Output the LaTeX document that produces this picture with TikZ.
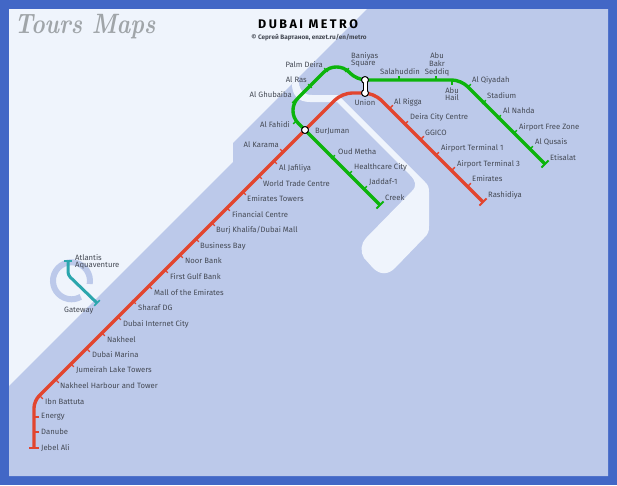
\documentclass[tikz,border=0pt]{standalone}
\usepackage{fontspec}
\setmainfont{Fira Sans}
\newfontfamily\titlefont[LetterSpace=20]{Fira Sans}
\definecolor{framecol}{HTML}{4267C6}
\definecolor{seacol}{HTML}{EFF4FC}
\definecolor{landcol}{HTML}{BCC9EA}
\definecolor{redcol}{HTML}{E2452F}
\definecolor{greencol}{HTML}{0CB40C}
\definecolor{tealcol}{HTML}{2BA6AD}
\definecolor{textcol}{HTML}{454A55}
\definecolor{logocol}{HTML}{A0A5A9}
\tikzset{
  stn/.style={font=\fontsize{7.7}{7.6}\selectfont,text=textcol,inner sep=0pt,anchor=west},
  stnr/.style={stn,anchor=east},
  stnc/.style={stn,anchor=center,align=center},
  stnl/.style={stn,align=left},
  tick/.style={rectangle,minimum width=5pt,minimum height=1.4pt,inner sep=0pt},
  endbar/.style={rectangle,minimum width=10pt,minimum height=2pt,inner sep=0pt},
  xchg/.style={circle,draw=black,fill=white,line width=1pt,minimum size=7pt,inner sep=0pt},
  metro/.style={line width=3.4pt,line cap=butt}
}
\begin{document}
\begin{tikzpicture}[line cap=round,line join=round,x=1pt,y=-1pt]
    \useasboundingbox (0,0) rectangle (617,485);
    \fill [framecol] (0,0) rectangle (617,485);
    \fill [seacol] (9,9) rectangle (608,476);
    \fill [landcol] (367,9) -- (608,9) -- (608,476) -- (9,476) -- (9,386) -- (233,162) -- (233,143) -- (300,76) -- cycle;
    \fill [seacol] (292,84) .. controls (292,95) and (298,102) .. (310,102) -- (337,102) -- (410,175) .. controls (416,181) and (417,186) .. (412,191) -- (366,238) .. controls (361,243) and (360,252) .. (364,258) -- (373,268) .. controls (380,275) and (388,275) .. (395,268) -- (424,238) .. controls (428,234) and (429,232) .. (429,226) -- (429,192) .. controls (429,187) and (428,185) .. (425,182) -- (338,95) -- (312,95) .. controls (303,95) and (299,90) .. (298,78) -- cycle;
    \draw [landcol,line width=6pt,line cap=butt] (89.7,284) arc [start angle=-10,end angle=300,radius=18.5pt];

    \node [font=\itshape\bfseries\fontsize{28}{28}\selectfont,text=logocol,inner sep=0pt,xscale=.83,transform shape] (logo) at (85,27) {\fontspec{Latin Modern Roman}Tours Maps};
    \node [font=\bfseries\fontsize{12.5}{12.5}\selectfont,text=black,inner sep=0pt] (title) at (308,24) {\titlefont DUBAI METRO};
    \node [font=\fontsize{6.4}{6.4}\selectfont\bfseries,text=textcol,inner sep=0pt] (credit) at (309,38) {© Сергей Вартанов, enzet.ru/en/metro};

    \coordinate (gateway) at (97,303);
    \coordinate (palmbend) at (68,275);
    \coordinate (atlantis) at (68,261);
    \draw [metro,tealcol,line width=3pt,rounded corners=3pt] (atlantis) -- (palmbend) -- (gateway);
    \node [endbar,fill=tealcol,minimum width=8pt,minimum height=1.6pt] (atlantisbar) at (atlantis) {};
    \node [endbar,fill=tealcol,minimum width=8pt,minimum height=1.6pt,rotate=45] (gatewaybar) at (gateway) {};

    \coordinate (jebelali) at (34,448);
    \coordinate (redbenda) at (34,401);
    \coordinate (redbendb) at (342,93);
    \coordinate (redbendc) at (374,93);
    \coordinate (rashidiya) at (483,202);
    \coordinate (creek) at (380,205);
    \coordinate (greenbenda) at (285.5,110.5);
    \coordinate (greenbendb) at (336.5,59.5);
    \coordinate (greenbendc) at (357,80);
    \coordinate (greenbendd) at (461,80);
    \coordinate (etisalat) at (545,164);
    \coordinate (burjuman) at (305,130);
    \coordinate (uniongreen) at (365,80);
    \coordinate (unionred) at (365,93);

    \draw [metro,greencol,rounded corners=18pt] (creek) -- (greenbenda) -- (greenbendb) [rounded corners=9pt] -- (greenbendc) -- (greenbendd) -- (etisalat);
    \draw [metro,redcol,rounded corners=7pt] (jebelali) -- (redbenda) [rounded corners=10pt] -- (redbendb) -- (redbendc) -- (rashidiya);

    \node [endbar,fill=redcol] (jebelbar) at (jebelali) {};
    \node [tick,fill=redcol] (tdanube) at (36,432) {};
    \node [tick,fill=redcol] (tenergy) at (36,417) {};
    \node [tick,fill=redcol,rotate=-45] (tibn) at (41,397) {};
    \node [tick,fill=redcol,rotate=-45] (tharbour) at (57,381) {};
    \node [tick,fill=redcol,rotate=-45] (tlake) at (72,365) {};
    \node [tick,fill=redcol,rotate=-45] (tmarina) at (88,350) {};
    \node [tick,fill=redcol,rotate=-45] (tnakheel) at (103,334) {};
    \node [tick,fill=redcol,rotate=-45] (tinternet) at (119,318) {};
    \node [tick,fill=redcol,rotate=-45] (tsharaf) at (134,302) {};
    \node [tick,fill=redcol,rotate=-45] (tmall) at (150,287) {};
    \node [tick,fill=redcol,rotate=-45] (tgulf) at (166,271) {};
    \node [tick,fill=redcol,rotate=-45] (tnoor) at (181,256) {};
    \node [tick,fill=redcol,rotate=-45] (tbusiness) at (197,240) {};
    \node [tick,fill=redcol,rotate=-45] (tkhalifa) at (213,224) {};
    \node [tick,fill=redcol,rotate=-45] (tfinancial) at (228,209) {};
    \node [tick,fill=redcol,rotate=-45] (ttowers) at (244,193) {};
    \node [tick,fill=redcol,rotate=-45] (twtc) at (260,177) {};
    \node [tick,fill=redcol,rotate=-45] (tjafiliya) at (275,162) {};
    \node [tick,fill=redcol,rotate=-45] (tkarama) at (282,151) {};
    \node [tick,fill=redcol,rotate=45] (trigga) at (391,107) {};
    \node [tick,fill=redcol,rotate=45] (tdeira) at (406,123) {};
    \node [tick,fill=redcol,rotate=45] (tggico) at (422,138) {};
    \node [tick,fill=redcol,rotate=45] (tterma) at (437,154) {};
    \node [tick,fill=redcol,rotate=45] (ttermb) at (453,169) {};
    \node [tick,fill=redcol,rotate=45] (temirates) at (469,185) {};
    \node [endbar,fill=redcol,rotate=45] (rashbar) at (rashidiya) {};

    \node [tick,fill=greencol,rotate=45] (toud) at (333,157) {};
    \node [tick,fill=greencol,rotate=45] (thealth) at (350,173) {};
    \node [tick,fill=greencol,rotate=45] (tjaddaf) at (365,188) {};
    \node [endbar,fill=greencol,rotate=45] (creekbar) at (creek) {};
    \node [tick,fill=greencol,rotate=45] (tfahidi) at (295,122) {};
    \node [tick,fill=greencol,rotate=45] (tghubaiba) at (294,101) {};
    \node [tick,fill=greencol,rotate=-45] (tras) at (310,86) {};
    \node [tick,fill=greencol,rotate=-45] (tpalm) at (326,70) {};
    \node [tick,fill=greencol,rotate=45] (tbaniyas) at (347,70) {};
    \node [tick,fill=greencol,rotate=90] (tsalah) at (399,78) {};
    \node [tick,fill=greencol,rotate=90] (tbakr) at (436,78) {};
    \node [tick,fill=greencol,rotate=90] (thail) at (452,82) {};
    \node [tick,fill=greencol,rotate=45] (tqiyadah) at (469,86) {};
    \node [tick,fill=greencol,rotate=45] (tstadium) at (484,102) {};
    \node [tick,fill=greencol,rotate=45] (tnahda) at (499,117) {};
    \node [tick,fill=greencol,rotate=45] (tfree) at (515,132) {};
    \node [tick,fill=greencol,rotate=45] (tqusais) at (531,148) {};
    \node [endbar,fill=greencol,rotate=45] (etisbar) at (etisalat) {};

    \draw [black,line width=5pt,line cap=butt] (uniongreen) -- (unionred);
    \node [xchg] (xunionn) at (uniongreen) {};
    \node [xchg] (xunions) at (unionred) {};
    \node [xchg] (xburjuman) at (burjuman) {};
    \draw [white,line width=3pt,line cap=butt] (uniongreen) -- (unionred);

    \node [stnl] (atlantislabel) at (75,262) {Atlantis\\Aquaventure};
    \node [stn] (gatewaylabel) at (64,311) {Gateway};

    \node [stn] (ljebel) at (41,448) {Jebel Ali};
    \node [stn] (ldanube) at (41,432) {Danube};
    \node [stn] (lenergy) at (41,417) {Energy};
    \node [stn] (libn) at (45,402) {Ibn Battuta};
    \node [stn] (lharbour) at (60,386) {Nakheel Harbour and Tower};
    \node [stn] (llake) at (76,370) {Jumeirah Lake Towers};
    \node [stn] (lmarina) at (92,355) {Dubai Marina};
    \node [stn] (lnakheel) at (107,340) {Nakheel};
    \node [stn] (linternet) at (123,324) {Dubai Internet City};
    \node [stn] (lsharaf) at (138,308) {Sharaf DG};
    \node [stn] (lmall) at (154,293) {Mall of the Emirates};
    \node [stn] (lgulf) at (170,277) {First Gulf Bank};
    \node [stn] (lnoor) at (185,261) {Noor Bank};
    \node [stn] (lbusiness) at (200,246) {Business Bay};
    \node [stn] (lkhalifa) at (216,230) {Burj Khalifa/Dubai Mall};
    \node [stn] (lfinancial) at (232,215) {Financial Centre};
    \node [stn] (ltowers) at (247,199) {Emirates Towers};
    \node [stn] (lwtc) at (263,184) {World Trade Centre};
    \node [stn] (ljafiliya) at (279,168) {Al Jafiliya};
    \node [stnr] (lkarama) at (279,145) {Al Karama};
    \node [stn] (lburjuman) at (315,131) {BurJuman};
    \node [stnc] (lunion) at (365,103) {Union};
    \node [stn] (lrigga) at (394,102) {Al Rigga};
    \node [stn] (ldeira) at (410,117) {Deira City Centre};
    \node [stn] (lggico) at (425,133) {GGICO};
    \node [stn] (lterma) at (441,148) {Airport Terminal 1};
    \node [stn] (ltermb) at (457,164) {Airport Terminal 3};
    \node [stn] (lemirates) at (472,179) {Emirates};
    \node [stn] (lrash) at (488,195) {Rashidiya};

    \node [stn] (loud) at (338,152) {Oud Metha};
    \node [stn] (lhealth) at (354,167) {Healthcare City};
    \node [stn] (ljaddaf) at (369,182) {Jaddaf-1};
    \node [stn] (lcreek) at (385,198) {Creek};
    \node [stnr] (lfahidi) at (290,125) {Al Fahidi};
    \node [stnr] (lghubaiba) at (292,95) {Al Ghubaiba};
    \node [stnr] (lras) at (307,80) {Al Ras};
    \node [stnr] (lpalm) at (323,65) {Palm Deira};
    \node [stnl] (lbaniyas) at (351,60) {Baniyas\\Square};
    \node [stn] (lsalah) at (380,72) {Salahuddin};
    \node [stnc] (lbakr) at (437,64.5) {Abu\\Bakr\\Seddiq};
    \node [stnc] (lhail) at (452,94) {Abu\\Hail};
    \node [stn] (lqiyadah) at (472,80) {Al Qiyadah};
    \node [stn] (lstadium) at (487,96) {Stadium};
    \node [stn] (lnahda) at (503,111) {Al Nahda};
    \node [stn] (lfree) at (519,127) {Airport Free Zone};
    \node [stn] (lqusais) at (535,142) {Al Qusais};
    \node [stn] (letis) at (550,158) {Etisalat};
\end{tikzpicture}
\end{document}
